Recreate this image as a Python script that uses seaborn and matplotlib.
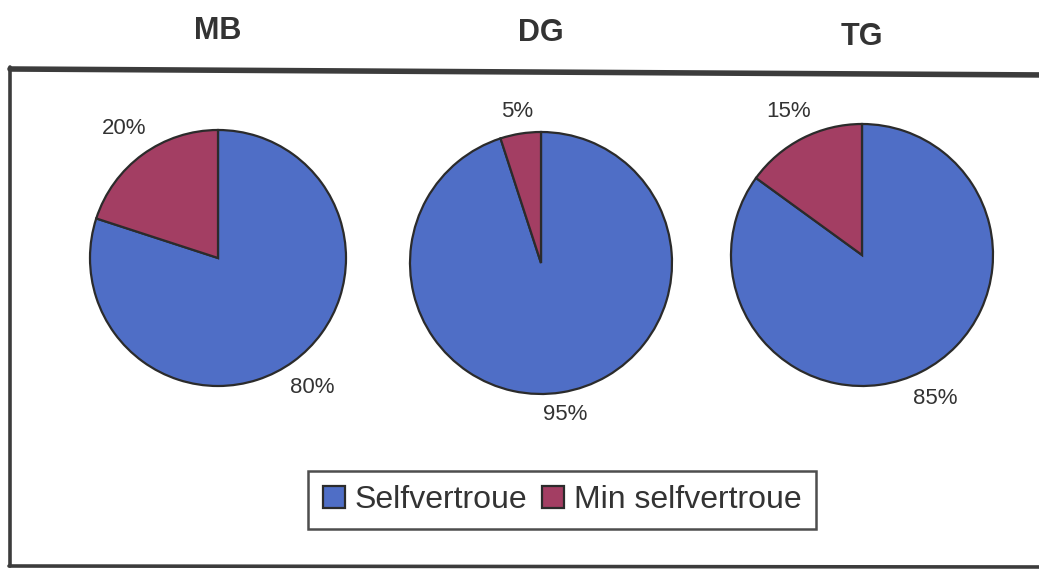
import numpy as np
import matplotlib
matplotlib.use("Agg")
import matplotlib.pyplot as plt
import seaborn as sns
from matplotlib.lines import Line2D

# Data
groups = ["MB", "DG", "TG"]
categories = ["Selfvertroue", "Min selfvertroue"]
selfvertroue = [80, 95, 85]
min_selfvertroue = [20, 5, 15]

W, H = 1039, 569

sns.set_theme(style="white")
plt.rcParams["font.family"] = ["Liberation Sans", "DejaVu Sans"]

colors = ["#4F6EC6", "#A33E63"]
text_col = "#333333"

fig = plt.figure(figsize=(W / 100, H / 100), dpi=100)
fig.patch.set_facecolor("white")

# pie centres / radius in pixels (layout)
layout = [(218, 258, 128, 1.25), (541, 263, 131, 1.17), (862, 255, 131, 1.23)]
title_y = [31, 33, 37]

wedges_ref = None
for i, g in enumerate(groups):
    cx, cy, r, pd_ = layout[i]
    ax = fig.add_axes([(cx - 1.25 * r) / W, (H - cy - 1.25 * r) / H,
                       2.5 * r / W, 2.5 * r / H])
    vals = [selfvertroue[i], min_selfvertroue[i]]
    wedges, texts, autotexts = ax.pie(
        vals, colors=colors, startangle=90, counterclock=False,
        autopct="%1.0f%%", pctdistance=pd_,
        wedgeprops=dict(edgecolor="#2b2b2b", linewidth=1.6),
        textprops=dict(fontsize=16, color=text_col))
    for t in autotexts:
        t.set_clip_on(False)
    if wedges_ref is None:
        wedges_ref = wedges
    fig.text(cx / W, 1 - title_y[i] / H, g, ha="center", va="center",
             fontsize=22, fontweight="bold", color=text_col)

# outer frame (scanned box)
frame_col = "#3c3c3c"
fig.add_artist(Line2D([10 / W, 1.01], [1 - 69 / H, 1 - 75 / H],
                      transform=fig.transFigure, color=frame_col, lw=4))
fig.add_artist(Line2D([10 / W, 10 / W], [1 - 67 / H, 1 - 566 / H],
                      transform=fig.transFigure, color=frame_col, lw=2.6))
fig.add_artist(Line2D([9 / W, 1.01], [1 - 566 / H, 1 - 567 / H],
                      transform=fig.transFigure, color=frame_col, lw=2.6))

leg = fig.legend(wedges_ref, categories, loc="center",
                 bbox_to_anchor=(562 / W, 1 - 500 / H), ncol=2,
                 fontsize=23, frameon=True, fancybox=False,
                 edgecolor="#222222", handlelength=0.7, handleheight=0.7,
                 handletextpad=0.3, columnspacing=0.45, borderpad=0.45,
                 borderaxespad=0)
leg.get_frame().set_linewidth(1.8)
for t in leg.get_texts():
    t.set_color(text_col)

fig.savefig("out.png", dpi=100, facecolor="white")
